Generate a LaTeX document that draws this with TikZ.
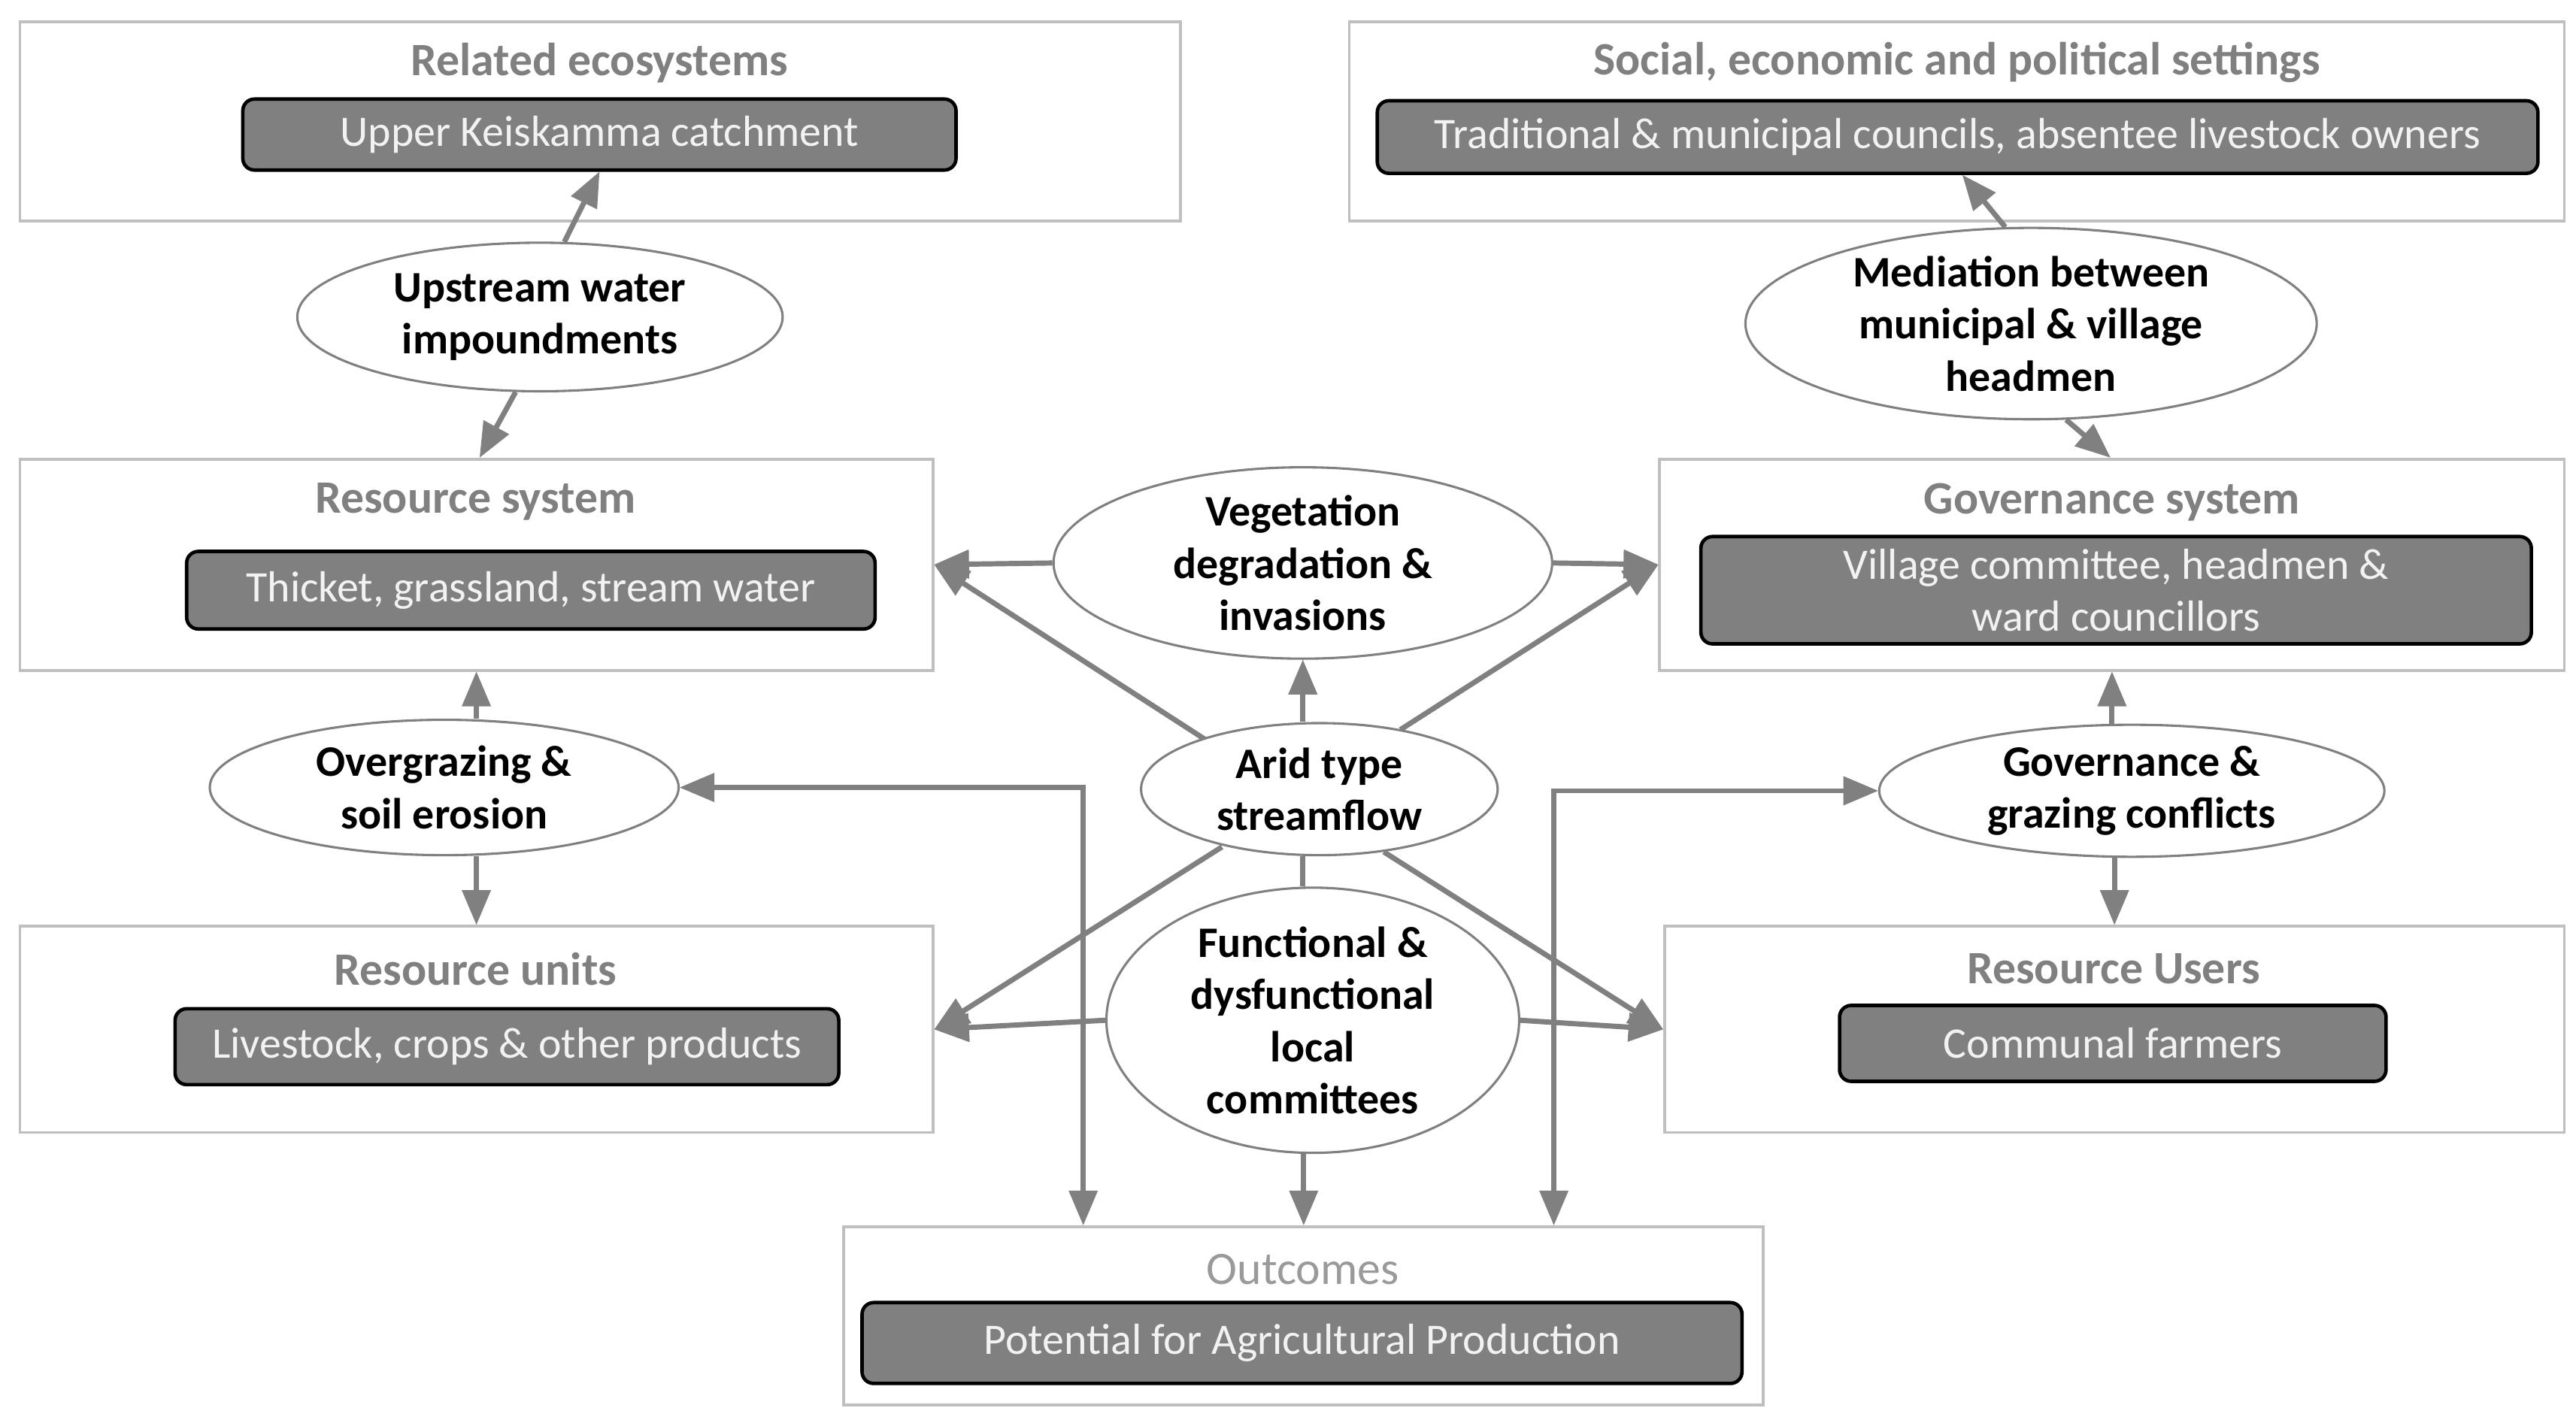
\documentclass[tikz,border=0pt]{standalone}
\usepackage{fontspec}
\setmainfont{Carlito}
\usetikzlibrary{arrows,shapes.geometric,positioning,calc}
\definecolor{midgray}{HTML}{808080}
\definecolor{linegray}{HTML}{BFBFBF}
\tikzset{
        frame/.style = {draw=linegray, line width=1pt, rectangle, inner sep=0pt},
        item/.style = {draw=black, line width=1.2pt, rounded corners=4pt, fill=midgray,
            text=white!95!black, font=\fontsize{15}{18}\selectfont, align=center, inner sep=0pt},
        title/.style = {text=midgray, font=\fontsize{16}{19}\selectfont\bfseries},
        link/.style = {draw=midgray, ellipse, line width=0.8pt, fill=white, inner sep=0pt,
            font=\fontsize{15}{18}\selectfont\bfseries, align=center},
        arrow/.style = {draw=midgray, line width=1.8pt, -triangle 45},
        twoway/.style = {draw=midgray, line width=1.8pt, triangle 45-triangle 45},
    }
\begin{document}
\begin{tikzpicture}[x=0.02cm,y=-0.02cm]
    \useasboundingbox (0,0) rectangle (1560,860);
    % boxes
    \node[frame, minimum width=14.06cm, minimum height=2.42cm] (eco) at (363.5,73.5) {};
    \node[title] (ecoT) at (363,38) {Related ecosystems};
    \node[item, minimum width=8.64cm, minimum height=0.86cm] (ecoI) at (363,81.5) {Upper Keiskamma catchment};

    \node[frame, minimum width=14.72cm, minimum height=2.42cm] (soc) at (1185,73.5) {};
    \node[title] (socT) at (1185,38) {Social, economic and political settings};
    \node[item, minimum width=14.06cm, minimum height=0.88cm] (socI) at (1185.5,83) {Traditional \& municipal councils, absentee livestock owners};

    \node[frame, minimum width=11.06cm, minimum height=2.56cm] (res) at (288.5,342) {};
    \node[title] (resT) at (288,304) {Resource system};
    \node[item, minimum width=8.34cm, minimum height=0.94cm] (resI) at (321.5,357.5) {Thicket, grassland, stream water};

    \node[frame, minimum width=10.96cm, minimum height=2.56cm] (gov) at (1279,342) {};
    \node[title] (govT) at (1279,304) {Governance system};
    \node[item, minimum width=10.06cm, minimum height=1.3cm] (govI) at (1281.5,357.5) {Village committee, headmen \&\\ward councillors};

    \node[frame, minimum width=11.06cm, minimum height=2.5cm] (unit) at (288.5,623.5) {};
    \node[title] (unitT) at (288,587) {Resource units};
    \node[item, minimum width=8.04cm, minimum height=0.92cm] (unitI) at (307,634) {Livestock, crops \& other products};

    \node[frame, minimum width=10.9cm, minimum height=2.5cm] (user) at (1280.5,623.5) {};
    \node[title] (userT) at (1280,587) {Resource Users};
    \node[item, minimum width=6.62cm, minimum height=0.92cm] (userI) at (1279.5,632) {Communal farmers};

    \node[frame, minimum width=11.14cm, minimum height=2.16cm] (out) at (789.5,797) {};
    \node[title, font=\fontsize{16}{19}\selectfont, text=midgray!80] (outT) at (789,769) {Outcomes};
    \node[item, minimum width=10.66cm, minimum height=0.98cm] (outI) at (788.5,813.5) {Potential for Agricultural Production};

    % interactions
    \node[link, minimum width=5.88cm, minimum height=1.8cm] (dam) at (327,192) {Upstream water\\impoundments};
    \node[link, minimum width=6.92cm, minimum height=2.2cm] (med) at (1230,196) {Mediation between\\municipal \& village\\headmen};
    \node[link, minimum width=6.04cm, minimum height=2.0cm] (veg) at (789,341) {Vegetation\\degradation \&\\invasions};
    \node[link, minimum width=5.68cm, minimum height=1.64cm] (graze) at (269,477) {Overgrazing \&\\soil erosion};
    \node[link, minimum width=6.12cm, minimum height=1.6cm] (conf) at (1291,479) {Governance \&\\grazing conflicts};

    % connectors
    \draw[arrow] (dam.72) -- (ecoI.south);
    \draw[arrow] (dam.252) -- ($(res.north)+(2,0)$);
    \draw[arrow] (med.105) -- ($(socI.south)+(3,0)$);
    \draw[arrow] (med.290) -- ($(gov.north)+(-1,0)$);
    \draw[arrow] (veg.west) -- (res.east);
    \draw[arrow] (veg.east) -- (gov.west);
    \draw[arrow] (graze.north -| res.south) -- (res.south);
    \draw[arrow] (graze.south -| unit.north) -- (unit.north);
    \draw[arrow] (conf.north -| gov.south) -- (gov.south);
    \draw[arrow] (conf.south -| user.north) -- (user.north);
    \coordinate (lbend) at (656,477);
    \coordinate (rbend) at (941,479);
    \draw[twoway] (graze.east) -- (lbend) -- (lbend |- out.north);
    \draw[twoway] (conf.west) -- (rbend) -- (rbend |- out.north);
    \draw[arrow] (730,448) -- (res.east);
    \draw[arrow] (848,442) -- (gov.west);
    \draw[arrow] (740,513) -- (unit.east);
    \draw[arrow] (838,516) -- (user.west);
    \node[link, minimum width=5.0cm, minimum height=2.72cm] (comm) at (795,618) {Functional \&\\dysfunctional\\local\\committees};
    \node[link, minimum width=4.32cm, minimum height=1.6cm] (arid) at (799,478) {Arid type\\streamflow};
    \draw[arrow] (arid.north -| veg.south) -- (veg.south);
    \draw[draw=midgray, line width=1.8pt] (arid.south -| 789,0) -- (comm.north -| 789,0);
    \draw[arrow] (comm.west) -- (unit.east);
    \draw[arrow] (comm.east) -- (user.west);
    \draw[arrow] (comm.south -| out.north) -- (out.north);
\end{tikzpicture}
\end{document}
